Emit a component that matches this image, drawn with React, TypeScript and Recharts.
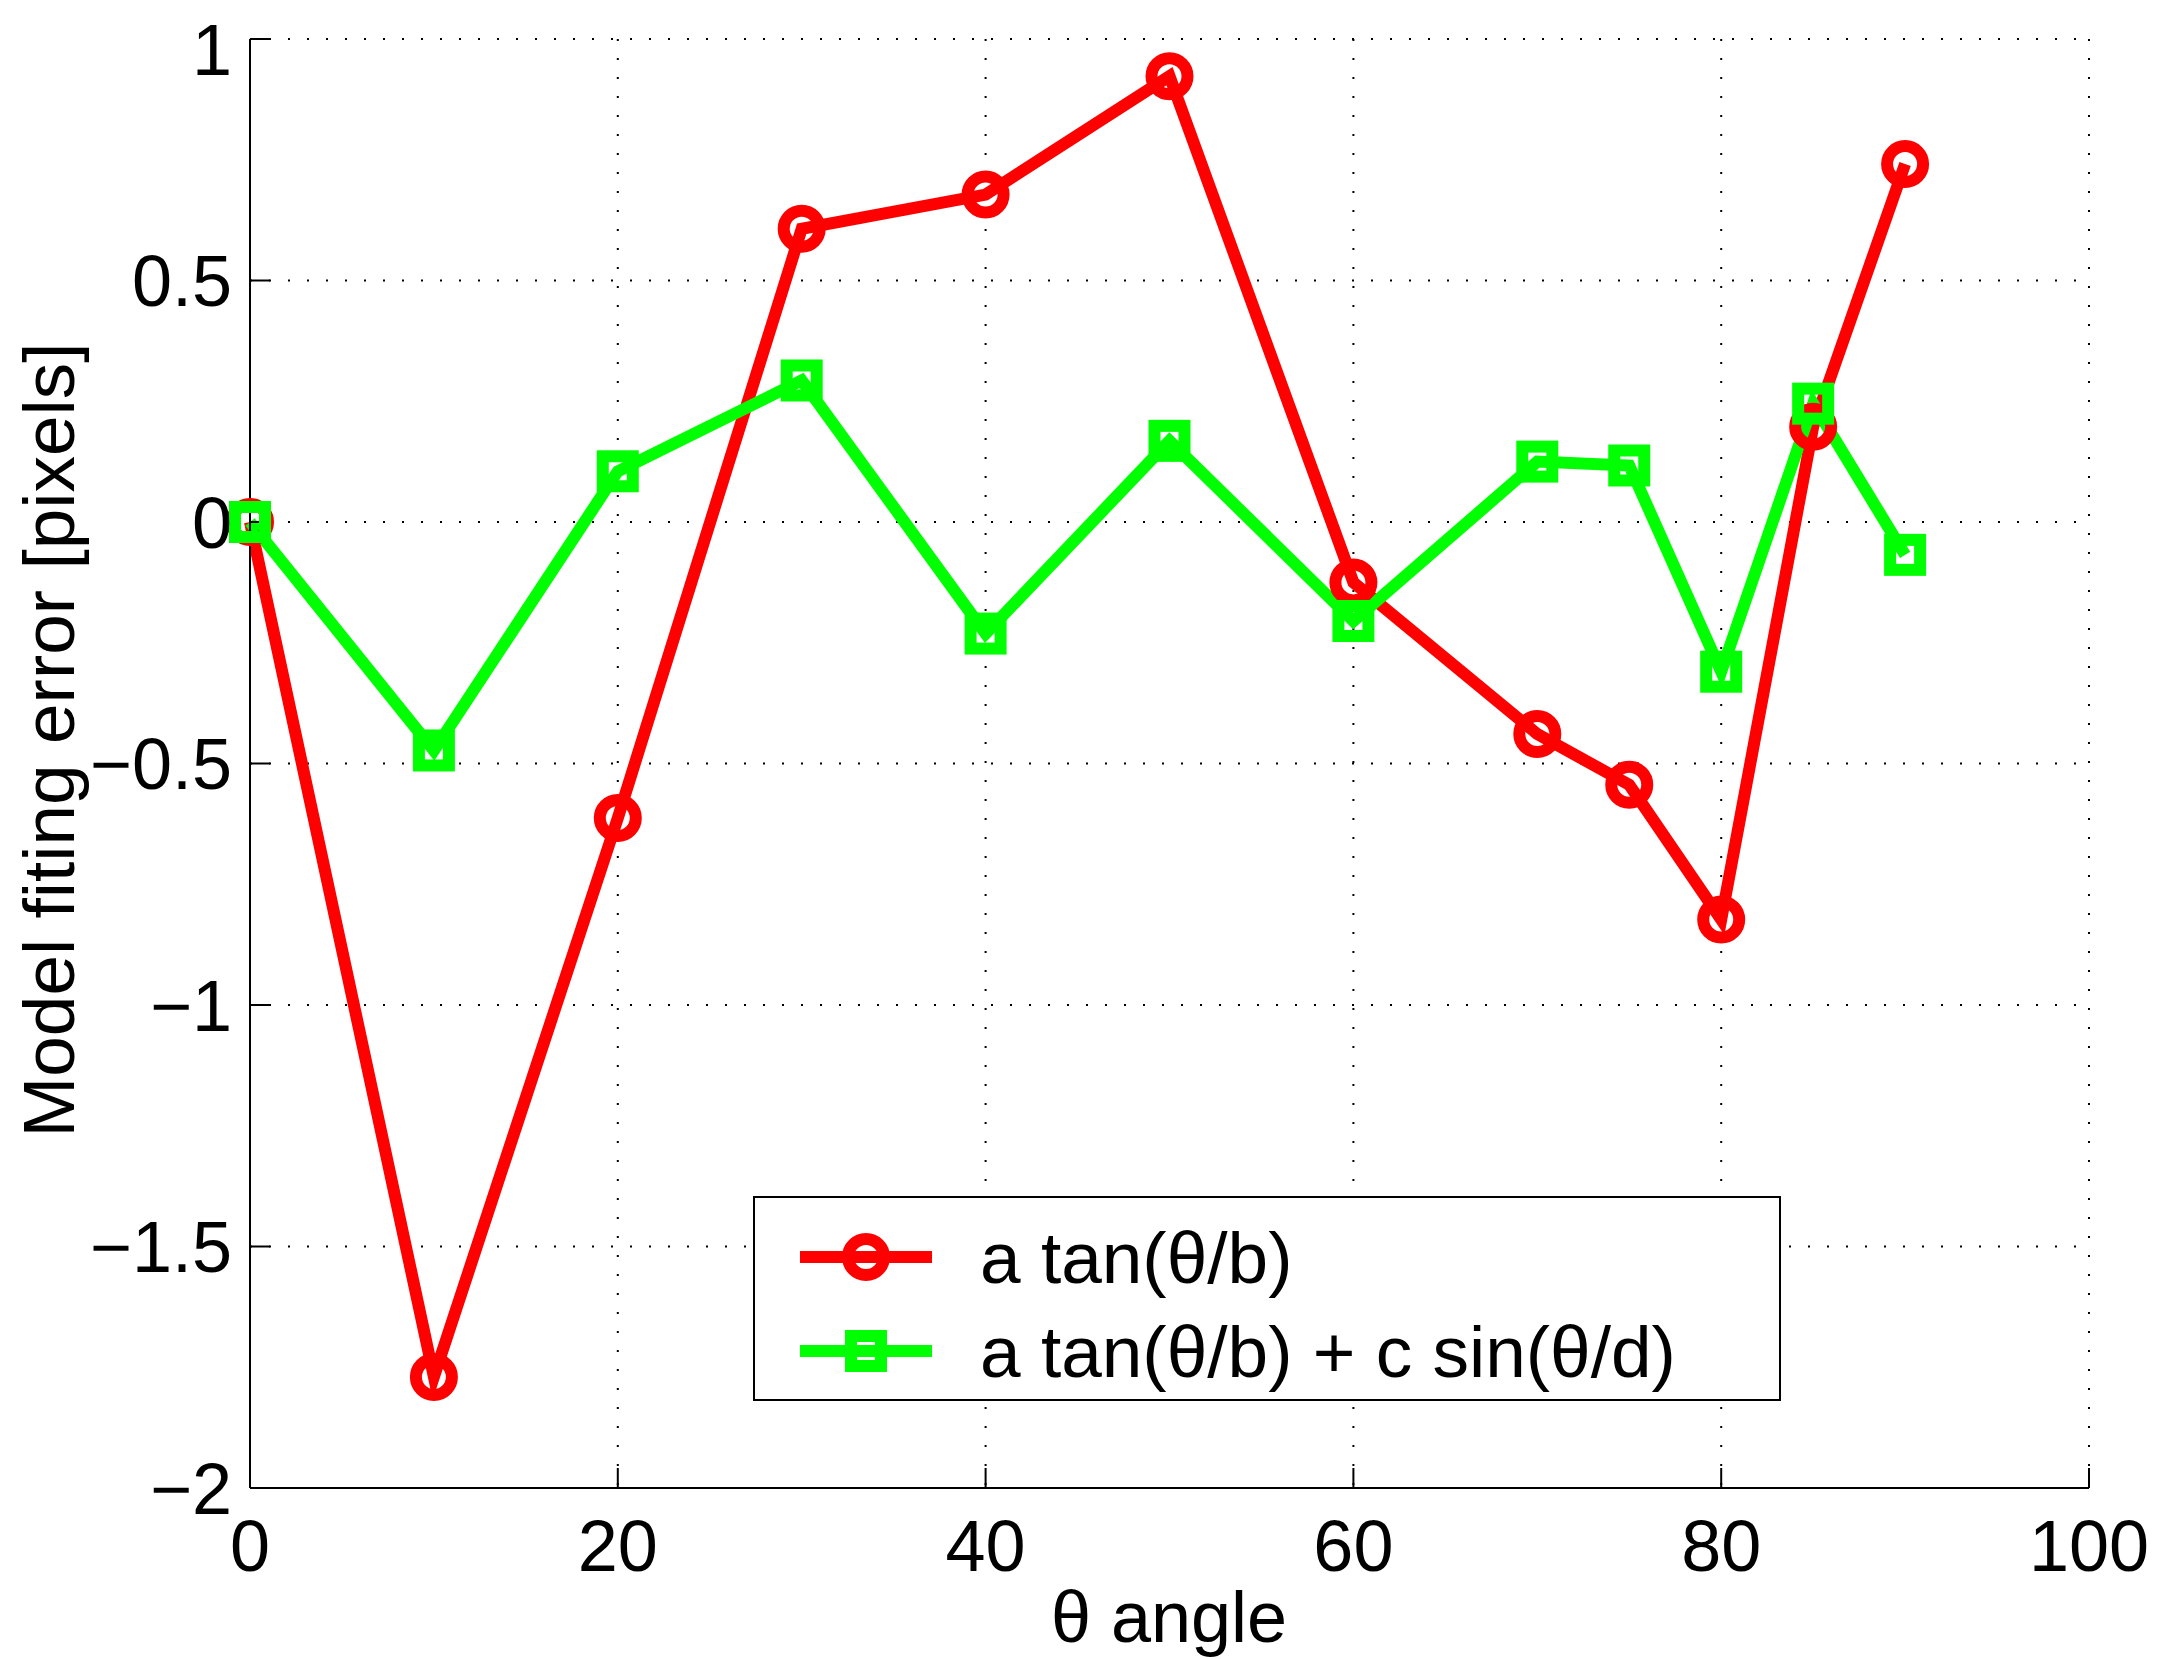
import { LineChart, Line, XAxis, YAxis, CartesianGrid, Legend } from 'recharts';

const angles = [0, 10, 20, 30, 40, 50, 60, 70, 75, 80, 85, 90];
const tanErr = [0, -1.77, -0.613, 0.607, 0.678, 0.923, -0.125, -0.439, -0.544, -0.823, 0.197, 0.741];
const tanSinErr = [0, -0.473, 0.105, 0.293, -0.231, 0.168, -0.205, 0.125, 0.117, -0.31, 0.245, -0.068];
const xTicks = [0, 20, 40, 60, 80, 100];
const yTicks = [-2, -1.5, -1, -0.5, 0, 0.5, 1];

const data = angles.map((a, i) => ({ angle: a, tan: tanErr[i], tanSin: tanSinErr[i] }));

const FONT = '"Liberation Sans", Arial, Helvetica, sans-serif';
const RED = '#ff0000';
const GREEN = '#00ff00';

const fmt = (v: number) => String(v).replace('-', '\u2212');

const CircleDot = (props: any) => {
  const { cx, cy, index } = props;
  return <circle key={`c-${index}`} cx={cx} cy={cy} r={18} fill="none" stroke={RED} strokeWidth={12} />;
};

const SquareDot = (props: any) => {
  const { cx, cy, index } = props;
  return (
    <rect key={`s-${index}`} x={cx - 15} y={cy - 15} width={30} height={30} fill="none" stroke={GREEN} strokeWidth={12} />
  );
};

const renderLegend = (props: any) => {
  const { payload = [] } = props;
  return (
    <div
      style={{
        boxSizing: 'border-box',
        width: 1028,
        height: 205,
        border: '2px solid #000',
        background: '#fff',
        fontFamily: FONT,
        fontSize: 73,
        paddingTop: 12,
      }}
    >
      {payload.map((entry: any) => {
        const isTan = entry.dataKey === 'tan';
        const color = isTan ? RED : GREEN;
        return (
          <div key={entry.dataKey} style={{ display: 'flex', alignItems: 'center', height: 94 }}>
            <svg width={225} height={60} style={{ flex: 'none' }}>
              <line x1={45} y1={30} x2={177} y2={30} stroke={color} strokeWidth={12} />
              {isTan ? (
                <circle cx={111} cy={30} r={18} fill="none" stroke={color} strokeWidth={12} />
              ) : (
                <rect x={96} y={15} width={30} height={30} fill="none" stroke={color} strokeWidth={12} />
              )}
            </svg>
            <span style={{ color: '#000', lineHeight: 1 }}>{entry.value}</span>
          </div>
        );
      })}
    </div>
  );
};

export default function App() {
  return (
    <LineChart
      width={2150}
      height={1651}
      data={data}
      margin={{ top: 31, right: 69, left: 0, bottom: 0 }}
      style={{ background: '#fff', fontFamily: FONT }}
    >
      <CartesianGrid stroke="#000" strokeWidth={2} strokeDasharray="2 17" />
      <XAxis
        dataKey="angle"
        type="number"
        domain={[0, 100]}
        ticks={xTicks}
        height={171}
        axisLine={{ stroke: '#000', strokeWidth: 2 }}
        tickLine={{ stroke: '#000', strokeWidth: 2 }}
        tickSize={-20}
        tickMargin={52}
        tick={{ fill: '#000', fontSize: 72, fontFamily: FONT }}
        label={() => (
          <text x={1161} y={1634} textAnchor="middle" fontSize={72} fontFamily={FONT} fill="#000">
            θ angle
          </text>
        )}
      />
      <YAxis
        type="number"
        domain={[-2, 1]}
        ticks={yTicks}
        width={242}
        tickFormatter={fmt}
        axisLine={{ stroke: '#000', strokeWidth: 2 }}
        tickLine={{ stroke: '#000', strokeWidth: 2 }}
        tickSize={-20}
        tickMargin={38}
        tick={{ fill: '#000', fontSize: 72, fontFamily: FONT }}
        label={() => (
          <text
            x={66}
            y={732}
            transform="rotate(-90 66 732)"
            textAnchor="middle"
            fontSize={73}
            fontFamily={FONT}
            fill="#000"
          >
            Model fiting error [pixels]
          </text>
        )}
      />
      <Legend
        layout="vertical"
        align="center"
        verticalAlign="middle"
        content={renderLegend}
        wrapperStyle={{ left: 745, top: 1188, width: 1028, height: 205 }}
      />
      <Line
        dataKey="tan"
        name="a tan(θ/b)"
        stroke={RED}
        strokeWidth={12}
        dot={CircleDot}
        activeDot={false}
        isAnimationActive={false}
      />
      <Line
        dataKey="tanSin"
        name="a tan(θ/b) + c sin(θ/d)"
        stroke={GREEN}
        strokeWidth={12}
        dot={SquareDot}
        activeDot={false}
        isAnimationActive={false}
      />
    </LineChart>
  );
}
